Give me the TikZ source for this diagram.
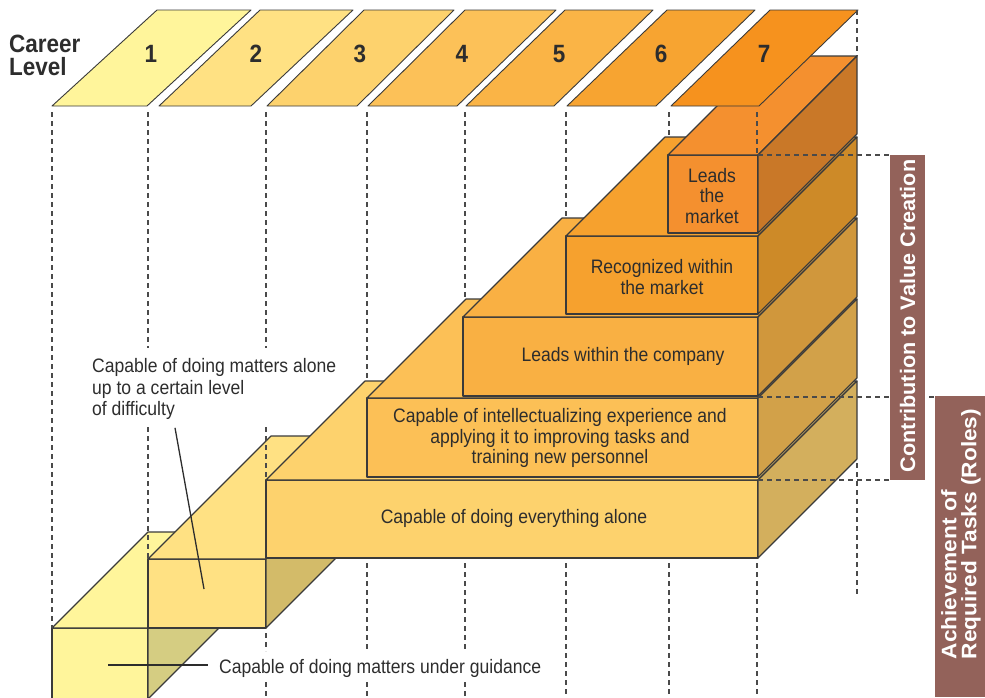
\documentclass[tikz,border=0pt]{standalone}
\usepackage{fontspec}
\setmainfont{Liberation Sans}[FakeStretch=0.9]
\newfontfamily\headfont{Liberation Sans}[FakeStretch=0.9]
\newfontfamily\tagfont{Liberation Sans}[FakeStretch=1.03]
\newfontfamily\roletagfont{Liberation Sans}[FakeStretch=1.08]

% level colours (front/top faces and header tiles)
\definecolor{lvA}{HTML}{FFF59B}
\definecolor{lvB}{HTML}{FFE183}
\definecolor{lvC}{HTML}{FDD26D}
\definecolor{lvD}{HTML}{FCC056}
\definecolor{lvE}{HTML}{F9B043}
\definecolor{lvF}{HTML}{F6A12E}
\definecolor{lvG}{HTML}{F4902F}
% shaded side faces
\definecolor{sdA}{HTML}{D5CD82}
\definecolor{sdB}{HTML}{D3BB69}
\definecolor{sdC}{HTML}{D3AF5D}
\definecolor{sdD}{HTML}{D2A149}
\definecolor{sdE}{HTML}{D0973C}
\definecolor{sdF}{HTML}{CD8A28}
\definecolor{sdG}{HTML}{C97828}
% header tiles
\definecolor{hdD}{HTML}{FCC158}
\definecolor{hdE}{HTML}{FAB446}
\definecolor{hdF}{HTML}{F7A431}
\definecolor{hdG}{HTML}{F6921E}
\definecolor{tagbrown}{HTML}{93625A}
\definecolor{ink}{HTML}{2D2D2D}
\definecolor{edge}{HTML}{3A3A3A}
\definecolor{guidegray}{HTML}{4A4A4A}

% a slab: left, right, front top, front bottom, depth, face colour, side colour
\newcommand\drawslab[7]{%
  \filldraw[slabline, fill=#6] (#1,#3) rectangle (#2,#4);
  \filldraw[slabline, fill=#6] (#1,#3) -- (#2,#3) -- ({#2+#5},{#3-#5}) -- ({#1+#5},{#3-#5}) -- cycle;
  \filldraw[slabline, fill=#7] (#2,#3) -- ({#2+#5},{#3-#5}) -- ({#2+#5},{#4-#5}) -- (#2,#4) -- cycle;
}
% a header tile: bottom-left, bottom-right, top-left, top-right, colour
\newcommand\drawtile[5]{%
  \filldraw[tileline, fill=#5] (#1,106) -- (#2,106) -- (#4,10) -- (#3,10) -- cycle;
}

\begin{document}
\begin{tikzpicture}[x=1pt, y=-1pt,
  slabline/.style={draw=edge, line width=1.1pt, line join=round},
  tileline/.style={draw=edge, line width=0.9pt, line join=round},
  guide/.style={draw=guidegray, line width=1.1pt, dash pattern=on 5pt off 4pt},
  leader/.style={draw=ink, line width=1.3pt},
  bodytext/.style={text=ink, inner sep=0pt, align=center, font=\fontsize{19.5}{20.5}\selectfont},
  sidenote/.style={text=ink, inner sep=0pt, align=left, font=\fontsize{19.5}{21.5}\selectfont},
  levelnum/.style={text=ink, inner sep=0pt, font=\headfont\bfseries\fontsize{25}{25}\selectfont},
  headword/.style={text=ink, inner sep=0pt, anchor=base west, font=\headfont\bfseries\fontsize{25}{25}\selectfont},
  tagtext/.style={text=white, inner sep=0pt, rotate=90, font=\tagfont\bfseries\fontsize{21}{20}\selectfont}
]
\useasboundingbox (0,0) rectangle (985,697);

% staircase of slabs, lowest first
\drawslab{52}{148}{628}{699}{96}{lvA}{sdA}
\drawslab{148}{266}{559}{628}{123}{lvB}{sdB}
\drawslab{266}{758}{480}{558}{99}{lvC}{sdC}
\drawslab{367}{758}{398}{477}{99}{lvD}{sdD}
\drawslab{463}{758}{317}{396}{99}{lvE}{sdE}
\drawslab{566}{758}{236}{314}{99}{lvF}{sdF}
\drawslab{668}{758}{155}{233}{99}{lvG}{sdG}

% header tiles, in front of the top slab
\drawtile{52}{147}{157}{251}{lvA}
\drawtile{159}{251}{260}{353}{lvB}
\drawtile{267}{357}{364}{454}{lvC}
\drawtile{368}{457}{465}{556}{hdD}
\drawtile{466}{554}{565}{653}{hdE}
\drawtile{567}{656}{667}{755}{hdF}
\drawtile{671}{759}{770}{858}{hdG}

\node[headword] (career) at (9,52) {Career};
\node[headword] (level) at (9,75) {Level};
\node[levelnum] (n1) at (151,54) {1};
\node[levelnum] (n2) at (256,54) {2};
\node[levelnum] (n3) at (360,54) {3};
\node[levelnum] (n4) at (462,54) {4};
\node[levelnum] (n5) at (559,54) {5};
\node[levelnum] (n6) at (661,54) {6};
\node[levelnum] (n7) at (764,54) {7};

% column guides above the slabs (broken where the side note sits)
\foreach \gx/\gy in {52/628, 367/381, 465/299, 566/218, 669/137, 757/155}
  \draw[guide] (\gx,112) -- (\gx,\gy);
\foreach \gx in {148,266}
  \draw[guide] (\gx,112) -- (\gx,348);
\draw[guide] (148,427) -- (148,559);
\draw[guide] (266,427) -- (266,480);
\draw[guide] (857,10) -- (857,56);
% column guides below the slabs (broken around the bottom caption)
\draw[guide] (266,633) -- (266,651);
\draw[guide] (266,682) -- (266,697);
\foreach \gx in {367,465}{
  \draw[guide] (\gx,563) -- (\gx,651);
  \draw[guide] (\gx,682) -- (\gx,697);
}
\foreach \gx in {566,669,757}
  \draw[guide] (\gx,563) -- (\gx,697);
\draw[guide] (857,463) -- (857,597);

% side tags
\coordinate (tagAtop) at (890,155);
\coordinate (tagAbot) at (890,480);
\coordinate (tagBtop) at (935,397);
\draw[guide] (758,155) -- (tagAtop);
\draw[guide] (758,480) -- (tagAbot);
\draw[guide] (758,397) -- (tagBtop);
\fill[tagbrown] (890,155) rectangle (925,480);
\fill[tagbrown] (935,396) rectangle (985,697);
\node[tagtext] (valuetag) at (907.5,316) {Contribution to Value Creation};
\node[tagtext, align=left, font=\roletagfont\bfseries\fontsize{21}{20}\selectfont] (roletag) at (961,534) {Achievement of\\Required Tasks (Roles)};

% slab captions
\node[bodytext] (lv7) at (712,196) {Leads\\the\\market};
\node[bodytext] (lv6) at (662,277) {Recognized within\\the market};
\node[bodytext] (lv5) at (623,356) {Leads within the company};
\node[bodytext] (lv4) at (560,438) {Capable of intellectualizing experience and\\applying it to improving tasks and\\training new personnel};
\node[bodytext] (lv3) at (514,518) {Capable of doing everything alone};

% notes for the two lowest slabs
\node[sidenote, anchor=west] (lv2) at (92,389) {Capable of doing matters alone\\up to a certain level\\of difficulty};
\coordinate (lv2tip) at (204,589);
\draw[leader] ([xshift=83pt, yshift=-8pt]lv2.south west) -- (lv2tip);

\node[sidenote, anchor=west] (lv1) at (219,668) {Capable of doing matters under guidance};
\coordinate (lv1tip) at (108,665);
\draw[leader] (lv1tip) -- ([xshift=-11pt]lv1.west |- lv1tip);
\end{tikzpicture}
\end{document}
